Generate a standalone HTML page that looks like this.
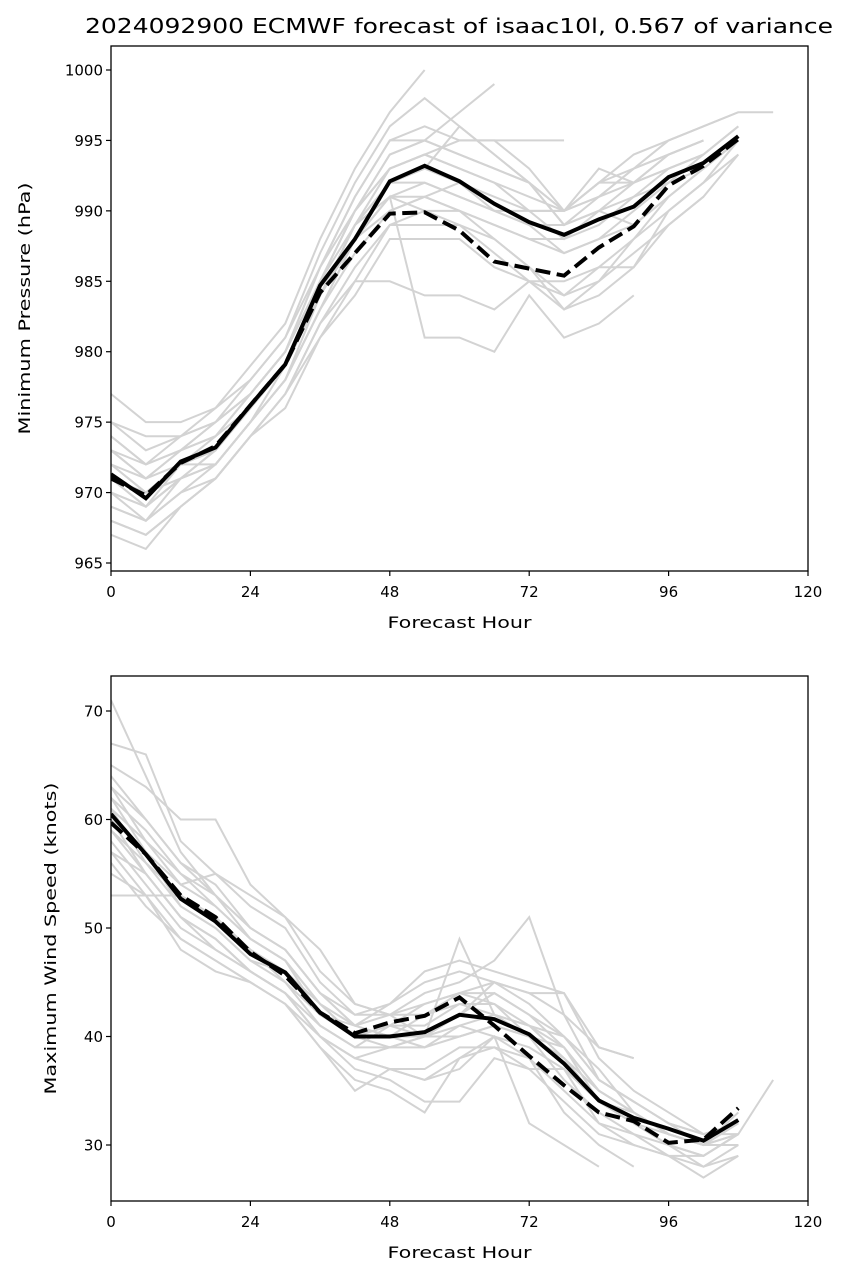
<!DOCTYPE html>
<html><head><meta charset="utf-8"><style>
body{margin:0;background:#fff;width:849px;height:1279px;overflow:hidden}
svg text{font-family:"DejaVu Sans","Liberation Sans",sans-serif;fill:#000}
</style></head><body>
<svg id="s" width="849" height="1279"></svg>
<script>
const hours=[0,6,12,18,24,30,36,42,48,54,60,66,72,78,84,90,96,102,108,114];
const xTicks=[0,24,48,72,96,120];
const pTicks=[965,970,975,980,985,990,995,1000];
const wTicks=[30,40,50,60,70];
const pMean=[971.3,969.6,972.2,973.2,976.2,979.1,984.7,988.0,992.1,993.2,992.1,990.5,989.2,988.3,989.4,990.3,992.4,993.4,995.3];
const pDet=[971.0,969.8,972.1,973.3,976.2,979.1,984.2,987.0,989.8,989.9,988.6,986.4,985.9,985.4,987.4,988.9,991.8,993.2,995.1];
const pMembers=[
[977,975,975,976,979,982,988,993,997,1000],
[975,973,974,975,978,981,987,992,996,998,996,994,992,990,991,993,995,996,997],
[974,972,973,975,977,980,986,991,995,996,995,995,995,995],
[973,971,973,974,977,980,985,990,994,995,994,993,992,990,992,994,995,996,997,997],
[972,970,972,973,976,979,984,989,993,994,993,992,991,990,992,993,994],
[971,969,971,973,976,979,984,989,992,993,992,991,990,990,993,992,994,995],
[970,969,971,972,975,978,983,988,991,992,991,990,989,989,990,991,993,994,996],
[969,968,970,972,975,978,983,987,990,991,990,989,988,988,989,991,992,993,995],
[968,967,969,971,974,977,982,986,989,990,990,989,988,987,988,990,992,994],
[970,968,971,972,975,979,984,988,992,993,996,994,992,989,990,989,991],
[967,966,969,971,974,977,981,984,988,988,988,986,985,984,985,987,989,991,994],
[969,968,970,971,974,977,982,985,985,984,984,983,985,985,986,986,989,991],
[971,969,972,972,975,978,983,988,991,981,981,980,984,981,982,984],
[973,971,973,974,976,979,984,988,991,990,989,987,985,983,985,988,991,993,995],
[974,972,974,975,977,980,985,990,994,995,997,999],
[972,970,971,973,976,979,985,990,993,994,993,992,990,988,990,992,994,995],
[970,969,971,972,975,978,984,989,991,991,990,988,986,984,986,988,990,992,994],
[968,967,969,971,974,976,981,985,989,989,989,988,986,983,984,986,990,992,995],
[975,974,974,976,978,981,986,991,995,995,994,993,992,989,991,992,993,994,996],
[972,971,972,974,977,980,986,990,993,994,995,995,993,990,991,993,994,995],
[971,970,972,973,976,979,984,988,990,991,992,990,989,987,988,989,991,993,995],
[973,972,973,975,977,980,985,989,992,992,991,990,990,990,992,992,993,994]
];
const wMean=[60.5,56.8,52.7,50.6,47.6,45.9,42.2,40.0,40.0,40.4,42.0,41.6,40.2,37.5,34.1,32.5,31.5,30.4,32.3];
const wDet=[59.7,56.8,53.0,51.0,47.8,45.6,42.2,40.3,41.3,41.9,43.6,41.0,38.2,35.5,33.0,32.2,30.2,30.5,33.4];
const wMembers=[
[71,64,57,53,50,48,44,41,40,39,41,42,40,38,35,33,31,30,31,36,40],
[67,66,58,55,52,50,45,42,43,46,47,46,45,44,39,38],
[65,63,60,60,54,51,46,43,42,44,45,47,51,42,36,34,32,31,32],
[64,60,56,53,50,48,44,41,40,40,42,44,42,39,34,32,31,30,33],
[63,58,54,52,49,47,43,40,39,40,49,42,41,40,37,33,31,30,30],
[62,57,52,50,47,46,42,40,40,42,43,43,41,38,34,32,30,29,31],
[61,56,53,51,48,45,41,39,41,43,44,43,40,36,33,31,30,28,29],
[60,55,51,49,46,44,40,38,39,40,41,40,38,35,32,31,29,27,29],
[59,55,51,48,46,44,40,38,37,36,38,39,38,33,30,28],
[58,54,50,48,46,44,40,37,36,34,34,38,37,37,32,30,29,28,30],
[57,53,49,47,45,43,39,36,35,33,38,40,32,30,28],
[56,52,49,47,45,43,40,38,37,36,37,40,39,37,34,33,31,30,32],
[60,57,54,55,53,51,48,43,42,40,42,45,44,44,38,35,33,31,31],
[62,59,55,52,49,47,42,41,43,45,46,45,44,42,39,38],
[55,53,53,51,48,46,43,40,41,40,40,41,40,39,35,33,31,30,30],
[53,53,48,46,45,43,39,35,37,37,39,39,37,34,31,30,29,29,31],
[61,58,55,53,49,47,43,41,42,42,44,45,43,40,36,34,32,30,31],
[59,56,52,50,47,45,42,40,41,41,43,42,41,39,35,33,31,30,32],
[63,60,56,54,50,48,44,42,42,43,44,44,42,40,36,34,32,31,32],
[57,55,51,49,46,44,41,39,39,39,40,41,40,38,34,32,30,29,31]
];
const S=document.getElementById('s');
const NS='http://www.w3.org/2000/svg';
function mk(tag,at,parent){const e=document.createElementNS(NS,tag);for(const k in at)e.setAttribute(k,at[k]);(parent||S).appendChild(e);return e;}
const X0=111,X1=808;
function xs(h){return X0+(h-0)/120*(X1-X0);}
function panel(name,top,bot,ymap,ticks,ylab,ylen,members,mean,det){
  const g=mk('g',{});
  
  
  const clip=mk('clipPath',{id:'c'+name},g);mk('rect',{x:X0,y:top,width:X1-X0,height:bot-top},clip);
  const pl=mk('g',{'clip-path':'url(#c'+name+')'},g);
  members.forEach((m,i)=>{
    const p=mk('polyline',{points:m.map((v,j)=>xs(hours[j])+','+ymap(v)).join(' '),fill:'none',stroke:'#d3d3d3','stroke-width':2},pl);
    
    
  });
  const d=mk('polyline',{points:det.map((v,j)=>xs(hours[j])+','+ymap(v)).join(' '),fill:'none',stroke:'#000','stroke-width':4,'stroke-dasharray':'15,6.5'},pl);
  
  
  const m=mk('polyline',{points:mean.map((v,j)=>xs(hours[j])+','+ymap(v)).join(' '),fill:'none',stroke:'#000','stroke-width':4},pl);
  
  
  const fr=mk('rect',{x:X0,y:top,width:X1-X0,height:bot-top,fill:'none',stroke:'#000','stroke-width':1.3},g);
  
  
  xTicks.forEach(t=>{
    mk('line',{x1:xs(t),x2:xs(t),y1:bot,y2:bot+5,stroke:'#000','stroke-width':1.2},g);
    const tx=mk('text',{x:xs(t),y:bot+26,'text-anchor':'middle','font-size':15},g);tx.textContent=t;
    
    
  });
  ticks.forEach(t=>{
    mk('line',{x1:X0-5,x2:X0,y1:ymap(t),y2:ymap(t),stroke:'#000','stroke-width':1.2},g);
    const tx=mk('text',{x:X0-8,y:ymap(t)+5.5,'text-anchor':'end','font-size':15},g);tx.textContent=t;
    
    
  });
  const xl=mk('text',{x:(X0+X1)/2,y:bot+57,'text-anchor':'middle','font-size':16,textLength:144,lengthAdjust:'spacingAndGlyphs'},g);xl.textContent='Forecast Hour';
  
  
  const cy=(top+bot)/2;
  const yl=mk('text',{x:0,y:0,'text-anchor':'middle','font-size':16,textLength:ylen,lengthAdjust:'spacingAndGlyphs',transform:'translate('+(name==='pressure-panel'?30:56)+','+cy+') rotate(-90)'},g);yl.textContent=ylab;
  
  
}
panel('pressure-panel',46,571,v=>70+(1000-v)*(563-70)/35,pTicks,'Minimum Pressure (hPa)',252,pMembers,pMean,pDet);
panel('wind-panel',676,1201,v=>711+(70-v)*(1145-711)/40,wTicks,'Maximum Wind Speed (knots)',312,wMembers,wMean,wDet);
const t=mk('text',{x:459,y:33,'text-anchor':'middle','font-size':20,textLength:748,lengthAdjust:'spacingAndGlyphs'});
t.textContent='2024092900 ECMWF forecast of isaac10l, 0.567 of variance';


</script>
</body></html>
